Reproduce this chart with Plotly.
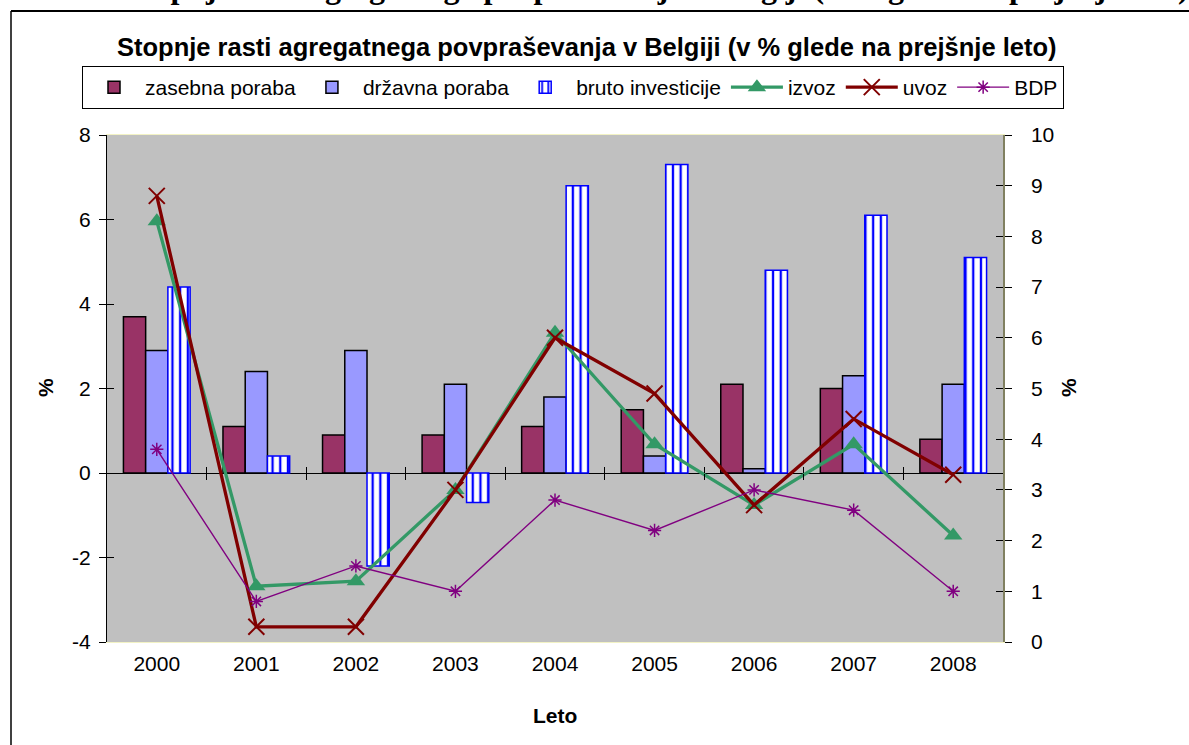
import plotly.graph_objects as go

# ---------------- data ----------------
years = ["2000", "2001", "2002", "2003", "2004", "2005", "2006", "2007", "2008"]
zasebna_poraba = [3.7, 1.1, 0.9, 0.9, 1.1, 1.5, 2.1, 2.0, 0.8]
drzavna_poraba = [2.9, 2.4, 2.9, 2.1, 1.8, 0.4, 0.1, 2.3, 2.1]
bruto_investicije = [4.4, 0.4, -2.2, -0.7, 6.8, 7.3, 4.8, 6.1, 5.1]
izvoz = [8.3, 1.1, 1.2, 3.0, 6.1, 3.9, 2.7, 3.9, 2.1]
uvoz = [8.8, 0.3, 0.3, 3.0, 6.0, 4.9, 2.7, 4.4, 3.3]
bdp = [3.8, 0.8, 1.5, 1.0, 2.8, 2.2, 3.0, 2.6, 1.0]

left_ticks = [-4, -2, 0, 2, 4, 6, 8]
left_ticktext = ["-4", "-2", "0", "2", "4", "6", "8"]
right_ticks = list(range(0, 11))
boundaries = [i + 0.5 for i in range(len(years) - 1)]

title = "Stopnje rasti agregatnega povpraševanja v Belgiji (v % glede na prejšnje leto)"
top_caption = "Stopnje rasti agregatnega povpraševanja v Belgiji (v % glede na prejšnje leto)"

# ---------------- layout geometry ----------------
W, H = 1189, 745
L, R, T, B = 107, 1003, 135, 642   # plot area in pixels
PW, PH = R - L, B - T


def px_x(x):
    return (x - L) / PW


def px_y(y):
    return (B - y) / PH


FONT = "Liberation Sans, Arial, sans-serif"

fig = go.Figure()

fig.add_trace(go.Bar(
    x=years, y=zasebna_poraba, name="zasebna poraba",
    marker=dict(color="#993366", line=dict(color="black", width=1.5)),
))
fig.add_trace(go.Bar(
    x=years, y=drzavna_poraba, name="državna poraba",
    marker=dict(color="#9999ff", line=dict(color="black", width=1.5)),
))
fig.add_trace(go.Bar(
    x=years, y=bruto_investicije, name="bruto investicije",
    marker=dict(color="white", line=dict(color="#0000ff", width=1.5),
                pattern=dict(shape="|", fgcolor="#0000ff", bgcolor="white",
                             size=7.7, solidity=0.3, fillmode="replace")),
))
fig.add_trace(go.Scatter(
    x=years, y=izvoz, name="izvoz", yaxis="y2", mode="lines+markers",
    line=dict(color="#339966", width=3.3),
    marker=dict(symbol="triangle-up", size=16, color="#339966"),
))
fig.add_trace(go.Scatter(
    x=years, y=uvoz, name="uvoz", yaxis="y2", mode="lines+markers",
    line=dict(color="#800000", width=3.3),
    marker=dict(symbol="x-thin-open", size=16, color="#800000",
                line=dict(color="#800000", width=2)),
))
fig.add_trace(go.Scatter(
    x=years, y=bdp, name="BDP", yaxis="y2", mode="lines+markers",
    line=dict(color="#800080", width=1.4),
    marker=dict(symbol="asterisk-open", size=11, color="#800080",
                line=dict(color="#800080", width=1.5)),
))

# empty helper traces so the overlay tick axes are drawn
for xa, ya in [("x", "y3"), ("x", "y4"), ("x2", "y"), ("x3", "y")]:
    fig.add_trace(go.Scatter(x=[], y=[], xaxis=xa, yaxis=ya, showlegend=False,
                             hoverinfo="skip"))

zero_pos = (0 - left_ticks[0]) / (left_ticks[-1] - left_ticks[0])

fig.update_layout(
    width=W, height=H,
    margin=dict(l=L, r=W - R, t=T, b=H - B, autoexpand=False),
    paper_bgcolor="white",
    plot_bgcolor="#c0c0c0",
    barmode="group", bargap=0.33, bargroupgap=0,
    font=dict(family=FONT, size=21, color="black"),
    showlegend=True,
    legend=dict(
        orientation="h", x=px_x(82), xanchor="left", y=px_y(66), yanchor="top",
        bordercolor="black", borderwidth=1, bgcolor="white",
        font=dict(family=FONT, size=21), traceorder="normal",
        itemwidth=52,
    ),
    xaxis=dict(
        type="category", range=[-0.5, len(years) - 0.5],
        showgrid=False, zeroline=False, ticks="",
        showline=True, mirror=True, linecolor="#f2f2c4", linewidth=1,
        ticklabelstandoff=3, tickfont=dict(size=21),
    ),
    xaxis2=dict(
        overlaying="x", anchor="free", position=zero_pos, range=[-0.5, len(years) - 0.5],
        tickmode="array", tickvals=boundaries, ticks="outside", ticklen=6,
        tickcolor="black", showticklabels=False, showgrid=False, zeroline=False,
        showline=False,
    ),
    xaxis3=dict(
        overlaying="x", anchor="free", position=zero_pos, range=[-0.5, len(years) - 0.5],
        tickmode="array", tickvals=boundaries, ticks="inside", ticklen=6,
        tickcolor="black", showticklabels=False, showgrid=False, zeroline=False,
        showline=False,
    ),
    yaxis=dict(
        range=[left_ticks[0], left_ticks[-1]], tickvals=left_ticks, ticktext=left_ticktext,
        showgrid=False, zeroline=True, zerolinecolor="black", zerolinewidth=1,
        showline=True, linecolor="black", linewidth=1,
        ticks="outside", ticklen=7, tickcolor="black",
        ticklabelstandoff=4, tickfont=dict(size=21),
    ),
    yaxis3=dict(
        overlaying="y", side="left", range=[left_ticks[0], left_ticks[-1]],
        tickvals=left_ticks, ticks="inside", ticklen=7, tickcolor="black",
        showticklabels=False, showgrid=False, zeroline=False, showline=False,
    ),
    yaxis2=dict(
        overlaying="y", side="right", range=[right_ticks[0], right_ticks[-1]],
        tickvals=right_ticks, showgrid=False, zeroline=False,
        showline=True, linecolor="#808060", linewidth=1.5,
        ticks="outside", ticklen=7, tickcolor="black",
        ticklabelstandoff=15, tickfont=dict(size=21),
    ),
    yaxis4=dict(
        overlaying="y", side="right", range=[right_ticks[0], right_ticks[-1]],
        tickvals=right_ticks, ticks="inside", ticklen=7, tickcolor="black",
        showticklabels=False, showgrid=False, zeroline=False, showline=False,
    ),
    annotations=[
        dict(text="<b>" + title + "</b>", xref="paper", yref="paper",
             x=px_x(587), y=px_y(47), xanchor="center", yanchor="middle",
             showarrow=False, font=dict(family=FONT, size=25.5)),
        dict(text="<b>" + top_caption + "</b>", xref="paper", yref="paper",
             x=px_x(124), y=px_y(7), xanchor="left", yanchor="bottom",
             showarrow=False,
             font=dict(family="Liberation Serif, Times New Roman, serif", size=32)),
        dict(text="<b>%</b>", xref="paper", yref="paper", x=px_x(45), y=px_y(388),
             xanchor="center", yanchor="middle", textangle=-90, showarrow=False,
             font=dict(family=FONT, size=21)),
        dict(text="<b>%</b>", xref="paper", yref="paper", x=px_x(1068), y=px_y(388),
             xanchor="center", yanchor="middle", textangle=-90, showarrow=False,
             font=dict(family=FONT, size=21)),
        dict(text="<b>Leto</b>", xref="paper", yref="paper", x=px_x(555), y=px_y(715),
             xanchor="center", yanchor="middle", showarrow=False,
             font=dict(family=FONT, size=21)),
    ],
    shapes=[
        dict(type="line", xref="paper", yref="paper", x0=px_x(11), x1=px_x(W + 5),
             y0=px_y(11), y1=px_y(11), line=dict(color="black", width=2)),
        dict(type="line", xref="paper", yref="paper", x0=px_x(11), x1=px_x(11),
             y0=px_y(11), y1=px_y(H + 5), line=dict(color="black", width=1.5)),
    ],
)

fig.write_html("out.html", config={"displayModeBar": False},
               post_script="document.body.style.margin='0px';")
